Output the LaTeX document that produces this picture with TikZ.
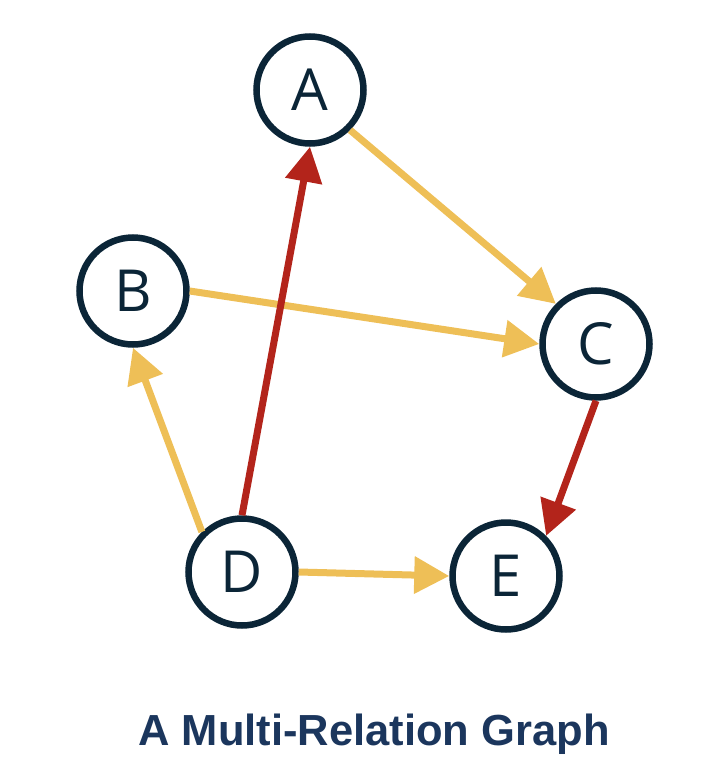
\documentclass[tikz,border=0pt]{standalone}
\usepackage{fontspec}
\setmainfont{Open Sans}
\newfontfamily\titlefont{Liberation Sans}
\usetikzlibrary{arrows.meta}
\definecolor{navy}{HTML}{0B2537}
\definecolor{titleblue}{HTML}{1B365D}
\definecolor{gold}{HTML}{EEBF57}
\definecolor{crimson}{HTML}{B3241B}
\tikzset{
  vert/.style={circle, draw=navy, line width=6.5pt, fill=white, inner sep=0pt,
    minimum size=107pt, text=navy, font=\fontsize{58}{60}\selectfont},
  rel/.style={line width=7pt, -{Triangle[length=35pt,width=36pt]}},
  weak/.style={rel, draw=gold, fill=gold},
  strong/.style={rel, draw=crimson, fill=crimson}
}
\begin{document}
\begin{tikzpicture}[x=1pt,y=-1pt]
\useasboundingbox (0,0) rectangle (720,760);
\node[vert] (A) at (310,90) {A};
\node[vert] (B) at (133,291) {B};
\node[vert] (C) at (596,344) {C};
\node[vert] (D) at (242,572) {D};
\node[vert] (E) at (506,576) {E};
\draw[weak] (A.south east) -- (C.north west);
\draw[weak] (B.east) -- (C.west);
\draw[weak] (D.north west) -- (B.south);
\draw[strong] (D.north) -- (A.south);
\draw[strong] (C.south) -- (E.north east);
\draw[weak] (D.east) -- (E.west);
\node[font=\titlefont\bfseries\fontsize{43.5}{46}\selectfont, text=titleblue, anchor=base] (title) at (374,745) {A Multi-Relation Graph};
\end{tikzpicture}
\end{document}
